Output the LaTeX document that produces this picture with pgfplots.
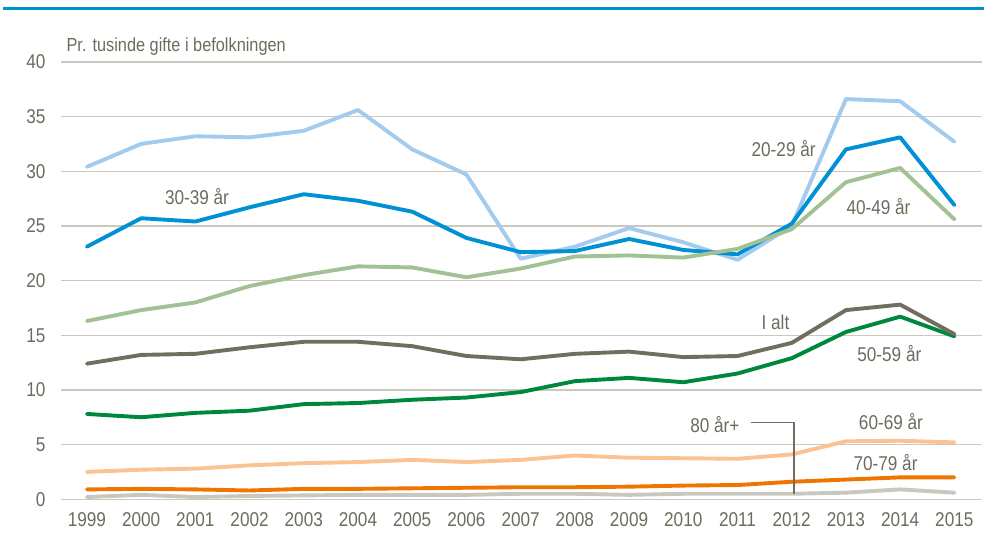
\documentclass[border=0pt]{standalone}
\usepackage{pgfplots}
\pgfplotsset{compat=1.18}
\usepackage{fontspec}
\setmainfont{Liberation Sans}[FakeStretch=0.86]
\definecolor{txt}{HTML}{6E6B5E}
\definecolor{gridc}{HTML}{CBC9BD}
\definecolor{topblue}{HTML}{0090D4}
\definecolor{cA}{HTML}{A3CBEE}
\definecolor{cB}{HTML}{0090D4}
\definecolor{cC}{HTML}{A2C293}
\definecolor{cD}{HTML}{716E60}
\definecolor{cE}{HTML}{00873E}
\definecolor{cF}{HTML}{FCC392}
\definecolor{cG}{HTML}{F07400}
\definecolor{cH}{HTML}{C8C8BE}
\begin{document}
\begin{tikzpicture}
\begin{axis}[
  at={(0,0)}, anchor=origin,
  scale only axis, width=922bp, height=438bp,
  xmin=1998.52, xmax=2015.5, ymin=0, ymax=40,
  axis line style={draw=none},
  xtick={1999,...,2015}, ytick={0,5,...,40},
  xticklabel style={/pgf/number format/1000 sep={}},
  /pgf/number format/assume math mode=true,
  ymajorgrids, xmajorgrids=false,
  major grid style={draw=gridc, line width=1.2bp},
  major tick length=0pt,
  tick label style={font=\fontsize{20bp}{22bp}\selectfont, text=txt},
  xticklabel style={yshift=-10bp},
  yticklabel style={xshift=-12bp},
  every axis plot/.append style={line width=3.9bp, line join=round, line cap=round, mark=none},
  clip=false,
]
\addplot[cA] coordinates {(1999,30.4)(2000,32.5)(2001,33.2)(2002,33.1)(2003,33.7)(2004,35.6)(2005,32.0)(2006,29.7)(2007,22.0)(2008,23.1)(2009,24.8)(2010,23.5)(2011,21.9)(2012,25.0)(2013,36.6)(2014,36.4)(2015,32.7)};
\addplot[cB] coordinates {(1999,23.1)(2000,25.7)(2001,25.4)(2002,26.7)(2003,27.9)(2004,27.3)(2005,26.3)(2006,23.9)(2007,22.6)(2008,22.7)(2009,23.8)(2010,22.8)(2011,22.4)(2012,25.2)(2013,32.0)(2014,33.1)(2015,26.9)};
\addplot[cC] coordinates {(1999,16.3)(2000,17.3)(2001,18.0)(2002,19.5)(2003,20.5)(2004,21.3)(2005,21.2)(2006,20.3)(2007,21.1)(2008,22.2)(2009,22.3)(2010,22.1)(2011,22.9)(2012,24.7)(2013,29.0)(2014,30.3)(2015,25.6)};
\addplot[cE] coordinates {(1999,7.8)(2000,7.5)(2001,7.9)(2002,8.1)(2003,8.7)(2004,8.8)(2005,9.1)(2006,9.3)(2007,9.8)(2008,10.8)(2009,11.1)(2010,10.7)(2011,11.5)(2012,12.9)(2013,15.3)(2014,16.7)(2015,14.9)};
\addplot[cF] coordinates {(1999,2.5)(2000,2.7)(2001,2.8)(2002,3.1)(2003,3.3)(2004,3.4)(2005,3.6)(2006,3.4)(2007,3.6)(2008,4.0)(2009,3.8)(2010,3.75)(2011,3.7)(2012,4.1)(2013,5.3)(2014,5.35)(2015,5.2)};
\addplot[cG] coordinates {(1999,0.9)(2000,0.95)(2001,0.9)(2002,0.8)(2003,0.95)(2004,0.95)(2005,1.0)(2006,1.05)(2007,1.1)(2008,1.1)(2009,1.15)(2010,1.25)(2011,1.3)(2012,1.6)(2013,1.8)(2014,2.0)(2015,2.0)};
\addplot[cH] coordinates {(1999,0.2)(2000,0.4)(2001,0.2)(2002,0.3)(2003,0.35)(2004,0.4)(2005,0.4)(2006,0.4)(2007,0.5)(2008,0.5)(2009,0.4)(2010,0.5)(2011,0.5)(2012,0.5)(2013,0.6)(2014,0.9)(2015,0.6)};
\addplot[cD] coordinates {(1999,12.4)(2000,13.2)(2001,13.3)(2002,13.9)(2003,14.4)(2004,14.4)(2005,14.0)(2006,13.1)(2007,12.8)(2008,13.3)(2009,13.5)(2010,13.0)(2011,13.1)(2012,14.3)(2013,17.3)(2014,17.8)(2015,15.1)};
\begin{scope}[every node/.style={font=\fontsize{20bp}{22bp}\selectfont, text=txt}]
\node at (axis cs:2001.03,27.7) {30-39 år};
\node at (axis cs:2011.85,32.1) {20-29 år};
\node at (axis cs:2013.6,26.8) {40-49 år};
\node at (axis cs:2011.7,16.2) {I alt};
\node at (axis cs:2013.8,13.3) {50-59 år};
\node at (axis cs:2013.83,7.1) {60-69 år};
\node at (axis cs:2013.73,3.4) {70-79 år};
\node[anchor=east] at (axis cs:2011.1,6.85) {80 år+};
\end{scope}
\draw[cD, line width=1.3bp] (axis cs:2011.24,7.0) -- (axis cs:2012.04,7.0) -- (axis cs:2012.04,0.45);
\node[anchor=west, font=\fontsize{19bp}{21bp}\selectfont, text=txt] at (axis cs:1998.56,41.4) {Pr. tusinde gifte i befolkningen};
\end{axis}
\draw[topblue, line width=3bp] (-58bp,491bp) -- (924bp,491bp);
\path[use as bounding box] (-61bp,-39bp) rectangle (924bp,500bp);
\end{tikzpicture}
\end{document}
